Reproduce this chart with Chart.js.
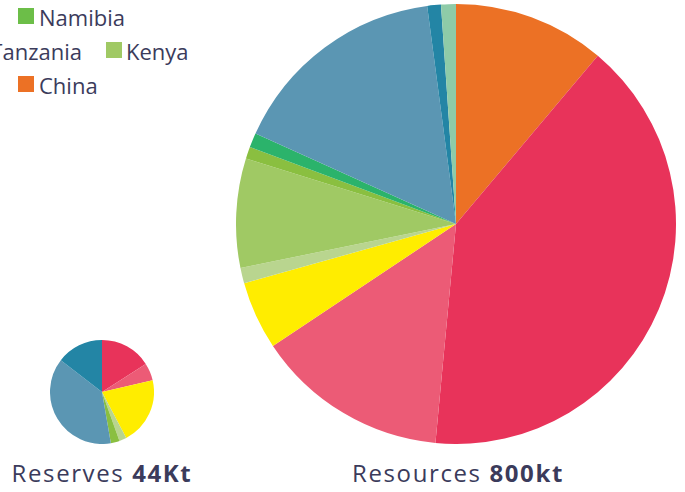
<!DOCTYPE html>
<html>
<head>
<meta charset="utf-8">
<script src="https://cdn.jsdelivr.net/npm/chart.js@4/dist/chart.umd.min.js"></script>
<style>
  html, body { margin: 0; padding: 0; background: #ffffff; }
  body { width: 685px; height: 492px; position: relative; overflow: hidden; font-family: "Open Sans", sans-serif; color: #3b3b5b; }
  .abs { position: absolute; }
  .sw { position: absolute; width: 16px; height: 16px; }
  .lt { position: absolute; font-size: 22px; line-height: 22px; white-space: nowrap; }
  .cap { position: absolute; font-size: 24px; line-height: 24px; white-space: nowrap; text-align: center; width: 300px; letter-spacing: 1.6px; }
  .cap b { font-weight: 700; }
</style>
</head>
<body>
<div id="big" class="abs" style="left:236px; top:4px; width:440px; height:440px;"><canvas id="cBig"></canvas></div>
<div id="small" class="abs" style="left:50px; top:340px; width:104px; height:104px;"><canvas id="cSmall"></canvas></div>
<div id="legend"></div>
<div class="cap" id="capSmall" style="left:-48px; top:461px;"></div>
<div class="cap" id="capBig" style="left:308px; top:461px;"></div>
<script>
// Resources (kt) — slices clockwise from 12 o'clock
const resourceLabels = ["China", "Country B", "Country C", "Country D", "Country E", "Kenya", "Country G", "Namibia", "Tanzania", "Country J", "Country K"];
const resourceValues = [89, 322, 113, 40, 9, 64, 7, 8.5, 129, 8, 8.7];
const resourceColors = ["#EC7125", "#E8335A", "#EC5B76", "#FFED00", "#B9D58F", "#A0C964", "#8ABF40", "#2BB36B", "#5B96B3", "#2385A5", "#8ECBA8"];

// Reserves (kt)
const reserveLabels = ["Country B", "Country C", "Country D", "Country E", "Country G", "Tanzania", "Country J"];
const reserveValues = [7.0, 2.4, 9.2, 1.0, 1.2, 16.8, 6.4];
const reserveColors = ["#E8335A", "#EC5B76", "#FFED00", "#B9D58F", "#8ABF40", "#5B96B3", "#2385A5"];

// Legend (partially visible in the reference)
const legendLabels = ["Namibia", "Tanzania", "Kenya", "China"];
const legendColors = ["#6CBE48", "#5B96B3", "#A0C964", "#EC7125"];

const captionSmall = ["Reserves ", "44Kt"];
const captionBig = ["Resources ", "800kt"];

function pieConfig(labels, values, colors) {
  return {
    type: 'pie',
    data: { labels: labels, datasets: [{ data: values, backgroundColor: colors, borderWidth: 0, hoverOffset: 0, offset: 0 }] },
    options: {
      responsive: true, maintainAspectRatio: false, animation: false,
      layout: { padding: 0 },
      plugins: { legend: { display: false }, tooltip: { enabled: false }, title: { display: false } }
    }
  };
}
new Chart(document.getElementById('cBig'), pieConfig(resourceLabels, resourceValues, resourceColors));
new Chart(document.getElementById('cSmall'), pieConfig(reserveLabels, reserveValues, reserveColors));

// legend layout: square position and text position (right-aligned text uses 'rx')
const legendPos = [
  { sx: 18, sy: 8, tx: 39, ty: 6 },
  { sx: -30, sy: 42, rx: 82, ty: 40 },
  { sx: 106, sy: 42, tx: 126, ty: 40 },
  { sx: 18, sy: 76, tx: 39, ty: 74 }
];
const lg = document.getElementById('legend');
legendLabels.forEach((lab, i) => {
  const p = legendPos[i];
  const s = document.createElement('div');
  s.className = 'sw'; s.style.left = p.sx + 'px'; s.style.top = p.sy + 'px'; s.style.background = legendColors[i];
  const t = document.createElement('div');
  t.className = 'lt'; t.style.top = p.ty + 'px'; t.textContent = lab;
  if (p.rx !== undefined) { t.style.right = (685 - p.rx) + 'px'; } else { t.style.left = p.tx + 'px'; }
  lg.appendChild(s); lg.appendChild(t);
});
document.getElementById('capSmall').innerHTML = captionSmall[0] + '<b>' + captionSmall[1] + '</b>';
document.getElementById('capBig').innerHTML = captionBig[0] + '<b>' + captionBig[1] + '</b>';
</script>
</body>
</html>
